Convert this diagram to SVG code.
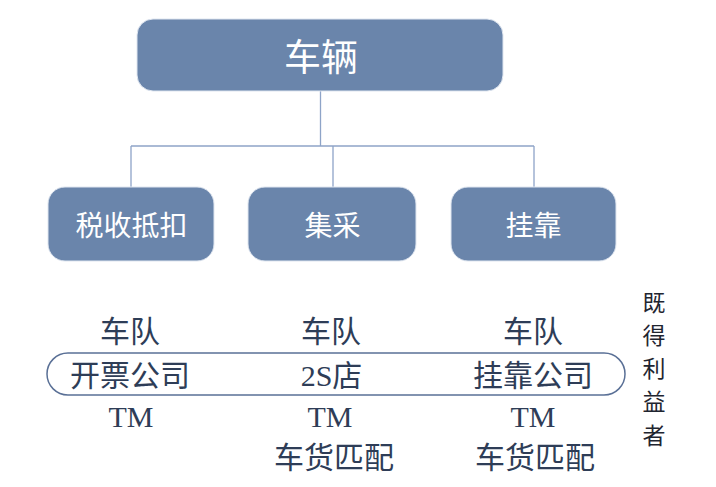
<svg xmlns="http://www.w3.org/2000/svg" width="716" height="487" viewBox="0 0 716 487">
<style>
.box{fill:#6a85ab;stroke:#dfe6f0;stroke-width:1}
.bt{fill:#ffffff;font-family:"Noto Sans CJK SC","Noto Sans",sans-serif;text-anchor:middle}
.conn{fill:none;stroke:#8ea4c8;stroke-width:1.3}
.lt{fill:#2e3d57;font-family:"Liberation Serif","Noto Sans CJK SC",serif;font-size:30px;text-anchor:middle}
.vt{fill:#1f2530;font-family:"Noto Sans CJK SC",sans-serif;font-size:23px;text-anchor:middle}
</style>
<rect width="716" height="487" fill="#ffffff"/>
<g id="connectors">
<path class="conn" d="M320.5 91 V146 M131 146 H534 M131 146 V188 M333 146 V188 M534 146 V188"/>
</g>
<g id="node-vehicle">
<rect class="box" x="137" y="19" width="366" height="72" rx="16"/>
<text class="bt" x="321" y="71" font-size="37">车辆</text>
</g>
<g id="node-tax">
<rect class="box" x="48" y="187" width="166" height="74" rx="17"/>
<text class="bt" x="131.5" y="235.5" font-size="28">税收抵扣</text>
</g>
<g id="node-collect">
<rect class="box" x="248" y="187" width="168" height="74" rx="17"/>
<text class="bt" x="332.5" y="235.5" font-size="28">集采</text>
</g>
<g id="node-affiliate">
<rect class="box" x="451" y="187" width="165" height="74" rx="17"/>
<text class="bt" x="533.5" y="235.5" font-size="28">挂靠</text>
</g>
<g id="beneficiaries">
<rect x="47" y="353" width="578" height="42" rx="21" fill="none" stroke="#5a7096" stroke-width="1.5"/>
<text class="lt" x="130" y="342">车队</text>
<text class="lt" x="130" y="386">开票公司</text>
<text class="lt" x="131" y="427">TM</text>
<text class="lt" x="331" y="342">车队</text>
<text class="lt" x="331.5" y="386">2S店</text>
<text class="lt" x="330" y="427">TM</text>
<text class="lt" x="334" y="468">车货匹配</text>
<text class="lt" x="533" y="342">车队</text>
<text class="lt" x="533" y="386">挂靠公司</text>
<text class="lt" x="533" y="427">TM</text>
<text class="lt" x="535" y="468">车货匹配</text>
</g>
<g id="label-beneficiary">
<text class="vt" x="654" y="311">既</text>
<text class="vt" x="654" y="344">得</text>
<text class="vt" x="654" y="377">利</text>
<text class="vt" x="654" y="410">益</text>
<text class="vt" x="654" y="444">者</text>
</g>
</svg>
